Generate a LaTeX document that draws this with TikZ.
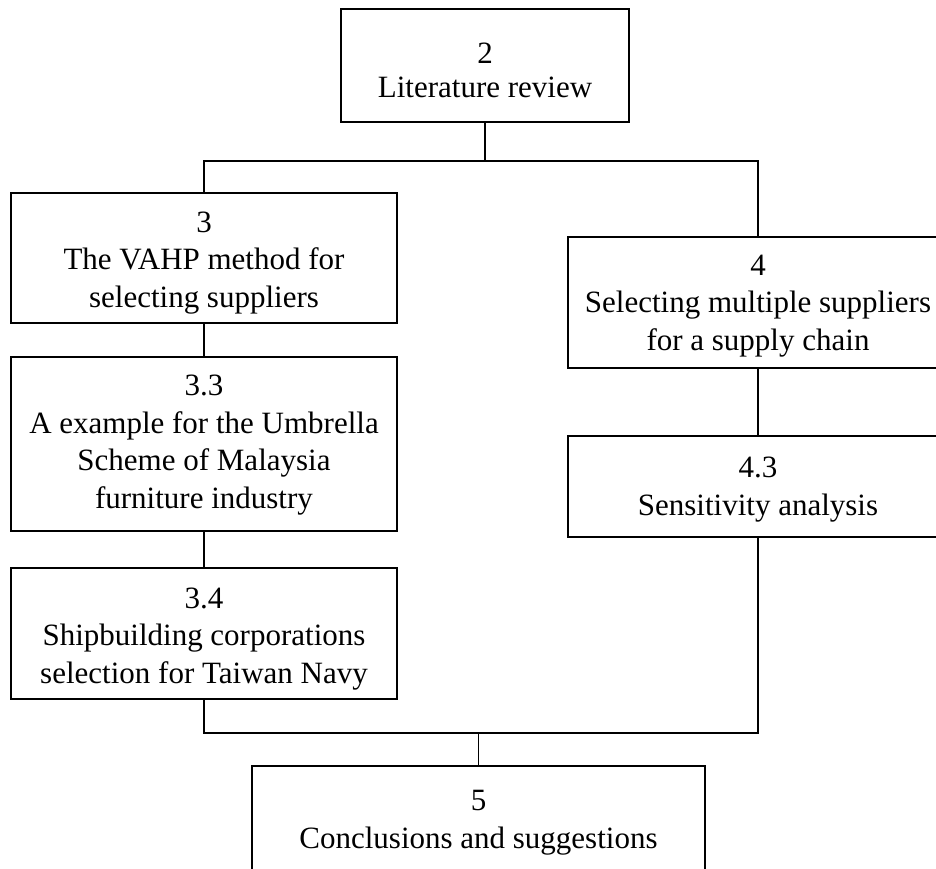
\documentclass[tikz,border=0pt]{standalone}
\usepackage{fontspec}
\setmainfont{Liberation Serif}
\usepackage{tikz}
\usetikzlibrary{positioning, calc}
\tikzset{every picture/.append style={thick}}
\tikzset{
  chapbox/.style={draw, line width=1.6pt, align=center, inner sep=0pt,
    font=\fontsize{31}{37.5}\selectfont},
  link/.style={line width=1.6pt}
}

\begin{document}
\begin{tikzpicture}[x=1pt, y=-1pt]

        % Page frame (the right boxes run off the page)
        \clip (0, 0) rectangle (936, 868);

        % Chapter 2
        \node[chapbox, font=\fontsize{31}{34}\selectfont, minimum width=288, text height=88pt, text depth=25pt] (lit) at (485, 65.5) {2\\Literature review};

        % Chapter 3 column
        \node[chapbox, minimum width=386, text height=114pt, text depth=16pt] (vahp) at (204, 258) {3\\The VAHP method for\\selecting suppliers};
        \node[chapbox, minimum width=386, text height=151pt, text depth=23pt] (umbrella) at (204, 444) {3.3\\A example for the Umbrella\\Scheme of Malaysia\\furniture industry};
        \node[chapbox, minimum width=386, text height=115pt, text depth=16pt] (navy) at (204, 633.5) {3.4\\Shipbuilding corporations\\selection for Taiwan Navy};

        % Chapter 4 column
        \node[chapbox, minimum width=380, text height=113pt, text depth=18pt] (multi) at (758, 302.5) {4\\Selecting multiple suppliers\\for a supply chain};
        \node[chapbox, minimum width=380, text height=79pt, text depth=22pt] (sens) at (758, 486.5) {4.3\\Sensitivity analysis};

        % Chapter 5
        \node[chapbox, minimum width=453, text height=82pt, text depth=40pt] (concl) at (478.5, 827) {5\\Conclusions and suggestions};

        % Top split
        \coordinate (topbus) at (485, 161);
        \draw[link] (lit.south) -- (topbus);
        \draw[link] (vahp.north) |- (topbus) -| (multi.north);

        % Column links
        \draw[link] (vahp.south) -- (umbrella.north);
        \draw[link] (umbrella.south) -- (navy.north);
        \draw[link] (multi.south) -- (sens.north);

        % Bottom merge
        \coordinate (botbus) at (478.5, 733);
        \draw[link] (navy.south) |- (botbus) -| (sens.south);
        \draw[link] (botbus) -- (concl.north);

    \end{tikzpicture}
\end{document}
